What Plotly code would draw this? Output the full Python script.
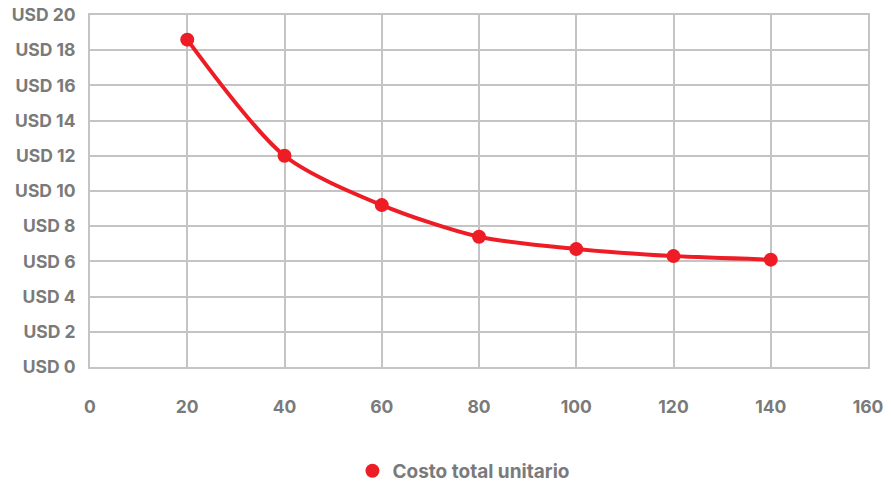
import plotly.graph_objects as go

# Units produced vs. total unit cost
units = [20, 40, 60, 80, 100, 120, 140]
unit_cost = [18.6, 12.0, 9.2, 7.4, 6.7, 6.3, 6.1]
series_name = "Costo total unitario"

y_ticks = list(range(0, 21, 2))
y_tick_labels = [f"USD {v}" for v in y_ticks]
x_ticks = list(range(0, 161, 20))

RED = "#ee1c25"
GRID = "#c4c4c4"
TEXT = "#7a7a7a"
TICK_FONT = dict(family="Inter, Roboto, sans-serif", size=17.5, color=TEXT, weight=700)
LEGEND_FONT = dict(family="Inter, Roboto, sans-serif", size=19, color=TEXT, weight=700)

fig = go.Figure()
fig.add_trace(go.Scatter(
    x=units, y=unit_cost, mode="lines+markers", name=series_name,
    line=dict(color=RED, width=4, shape="spline", smoothing=0.8),
    marker=dict(color=RED, size=14),
    showlegend=False,
))
# legend entry shown as a plain dot
fig.add_trace(go.Scatter(
    x=[None], y=[None], mode="markers", name=series_name,
    marker=dict(color=RED, size=14), showlegend=True,
))

fig.update_layout(
    width=891, height=483,
    margin=dict(l=90, r=23, t=15, b=116, autoexpand=False),
    paper_bgcolor="white", plot_bgcolor="white",
    font=TICK_FONT,
    legend=dict(orientation="h", x=0.48, xanchor="center", y=-0.295, yanchor="middle",
                font=LEGEND_FONT, itemwidth=30),
)
fig.update_xaxes(
    range=[0, 160], tickvals=x_ticks, showgrid=True, gridcolor=GRID, gridwidth=2,
    showline=True, linecolor=GRID, linewidth=2, mirror=True, zeroline=False,
    ticks="", ticklabelstandoff=23, tickfont=TICK_FONT,
)
fig.update_yaxes(
    range=[0, 20], tickvals=y_ticks, ticktext=y_tick_labels, showgrid=True,
    gridcolor=GRID, gridwidth=2, showline=True, linecolor=GRID, linewidth=2,
    mirror=True, zeroline=False, ticks="", ticklabelstandoff=9, tickfont=TICK_FONT,
)

fig.write_html("out.html")
